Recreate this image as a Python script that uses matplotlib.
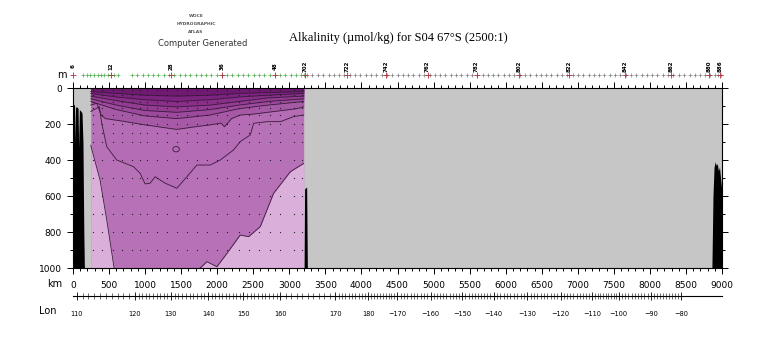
import numpy as np
import matplotlib.pyplot as plt
from matplotlib.patches import Ellipse

# --- isolines of alkalinity read from the section (distance km, depth m) ---
# shallow band lines, share one x list
band_km = [246, 600, 1000, 1440, 1900, 2300, 2700, 3199]
band_a = [20, 30, 40, 45, 40, 30, 25, 20]
band_b = [30, 50, 65, 75, 65, 50, 40, 30]
band_c = [45, 70, 95, 105, 95, 75, 55, 45]
band_d = [60, 95, 125, 135, 120, 95, 75, 60]
band_e = [75, 120, 155, 170, 150, 115, 95, 75]

c200_km = [246, 330, 390, 450, 700, 1000, 1440, 1700, 1900, 2050, 2100, 2200, 2319, 2500, 2700, 2900, 3100, 3199]
c200_dep = [95, 85, 150, 170, 185, 205, 230, 215, 205, 195, 215, 170, 150, 145, 135, 125, 115, 105]

cmid_km = [246, 366, 398, 468, 606, 838, 931, 1000, 1069, 1139, 1278, 1440, 1579, 1718, 1903, 2042,
           2227, 2319, 2458, 2505, 2690, 2875, 3060, 3199]
cmid_dep = [131, 104, 196, 326, 400, 437, 474, 533, 529, 493, 529, 557, 493, 428, 428, 400,
            344, 298, 261, 196, 187, 187, 159, 150]

light_l_km = [246, 300, 375, 468, 570]
light_l_dep = [318, 400, 511, 733, 1000]
light_r_km = [1764, 1857, 1995, 2134, 2319, 2435, 2597, 2782, 3014, 3199]
light_r_dep = [1000, 965, 993, 919, 817, 826, 770, 585, 465, 419]

eddy = (1430, 340)  # small closed contour

# sample positions
bottle_km = [282, 398, 560, 676, 815, 931, 1023, 1162, 1301, 1440, 1579, 1718, 1856, 1995,
             2134, 2296, 2435, 2574, 2736, 2875, 3060, 3180]
bottle_dep = [10, 40, 75, 110, 150, 200, 250, 300, 400, 500, 600, 700, 800, 900]

# bathymetry
bath_l_km = [-5, 0, 10, 20, 28, 34, 45, 58, 70, 78, 88, 100, 112, 125, 138, 150, 158]
bath_l_dep = [1000, 80, 95, 90, 300, 100, 110, 105, 115, 330, 120, 125, 130, 140, 300, 800, 1000]
bath_m_km = [3205, 3212, 3240, 3250]
bath_m_dep = [1000, 560, 550, 1000]
bath_r_km = [8860, 8875, 8890, 8905, 8920, 8935, 8950, 8965, 8980, 8995, 9010]
bath_r_dep = [1000, 600, 440, 410, 430, 420, 460, 440, 500, 560, 600]

# stations along the top
sta_data_km = [140, 190, 240, 290, 340, 385, 430, 480, 525, 570, 620,
               820, 890, 965, 1040, 1110, 1185, 1260, 1330, 1405, 1480, 1550, 1625, 1700, 1770,
               1845, 1920, 1990, 2065, 2140, 2210, 2285, 2360, 2430, 2505, 2580, 2650, 2725,
               2800, 2870, 2945, 3020, 3090, 3165, 3210]
sta_other_km = [3250, 3320, 3395, 3470, 3545, 3620, 3690, 3765, 3840, 3910, 3985, 4060, 4135,
                4205, 4280, 4355, 4430, 4500, 4575, 4650, 4720, 4795, 4870, 4945, 5015, 5090,
                5165, 5235, 5310, 5385, 5460, 5530, 5605, 5680, 5750, 5825, 5900, 5975, 6045,
                6120, 6195, 6265, 6340, 6415, 6490, 6560, 6635, 6710, 6780, 6855, 6930, 7005,
                7075, 7150, 7225, 7295, 7370, 7445, 7520, 7590, 7665, 7740, 7810, 7885, 7960,
                8035, 8105, 8180, 8255, 8325, 8400, 8475, 8550, 8620, 8695, 8770, 8840, 8900,
                8945, 8985]
sta_lab_km = [0, 528, 1361, 2069, 2806, 3222, 3806, 4347, 4917, 5597, 6181, 6875, 7653, 8292, 8819, 8972]
sta_lab = ['6', '12', '28', '36', '48', '702', '722', '742', '762', '782', '802', '822', '842',
           '862', '880', '886']

# longitude along track
lon_lab = ['110', '120', '130', '140', '150', '160', '170', '180', '\u2212170', '\u2212160',
           '\u2212150', '\u2212140', '\u2212130', '\u2212120', '\u2212110', '\u2212100', '\u221290', '\u221280']
lon_val = [110, 120, 130, 140, 150, 160, 170, 180, 190, 200, 210, 220, 230, 240, 250, 260, 270, 280]
lon_km = [51, 861, 1357, 1875, 2361, 2875, 3639, 4097, 4496, 4958, 5399, 5833, 6301, 6764,
          7204, 7569, 8014, 8431]

W, H = 780, 350
fig = plt.figure(figsize=(W / 100, H / 100), dpi=100)
L, R, T, B = 73, 722, 88, 268
ax = fig.add_axes([L / W, 1 - B / H, (R - L) / W, (B - T) / H])
ax.set_xlim(0, 9000)
ax.set_ylim(1000, 0)
ax.set_facecolor('#c6c6c6')

xg = np.linspace(246, 3199, 800)
cols = ['#6e1a70', '#7c2480', '#883088', '#923c92', '#9c4a9c', '#a65aa6', '#b46cb4', '#b771b7']
lines = [band_a, band_b, band_c, band_d, band_e]
deep = [np.interp(xg, band_km, d) for d in lines]
deep.append(np.interp(xg, c200_km, c200_dep))
deep.append(np.interp(xg, cmid_km, cmid_dep))

ax.fill_between(xg, 0, 1000, color=cols[-1], lw=0)
for d, c in zip(deep[::-1], cols[-2::-1]):
    ax.fill_between(xg, 0, d, color=c, lw=0)

light = np.minimum(np.interp(xg, light_l_km, light_l_dep, right=1000),
                   np.interp(xg, light_r_km, light_r_dep, left=1000))
ax.fill_between(xg, light, 1000, color='#dab0da', lw=0)

lc = '#3c1a3c'
for d in lines:
    ax.plot(band_km, d, color=lc, lw=0.6)
ax.plot(c200_km, c200_dep, color=lc, lw=0.6)
ax.plot(cmid_km, cmid_dep, color=lc, lw=0.6)
ax.plot(light_l_km, light_l_dep, color=lc, lw=0.6)
ax.plot(light_r_km, light_r_dep, color=lc, lw=0.6)
ax.add_patch(Ellipse(eddy, 90, 30, fill=False, ec=lc, lw=0.6))

bk, bd = np.meshgrid(bottle_km, bottle_dep)
ax.plot(bk.ravel(), bd.ravel(), 'o', ms=0.9, color='#202020', mew=0)

ax.fill_between(bath_l_km, bath_l_dep, 1000, color='black', lw=0)
ax.fill_between(bath_m_km, bath_m_dep, 1000, color='black', lw=0)
ax.fill_between(bath_r_km, bath_r_dep, 1000, color='black', lw=0)

ax.set_xticks(range(0, 9001, 500))
ax.set_xticks(range(0, 9001, 100), minor=True)
ax.set_yticks(range(0, 1001, 200))
ax.set_yticks(range(0, 1001, 100), minor=True)
ax.tick_params(which='both', direction='out', top=True, right=True, width=0.7,
               labelsize=6.5, pad=4)
ax.tick_params(which='major', length=4)
ax.tick_params(which='minor', length=2)
ax.tick_params(axis='x', pad=5)
for s in ax.spines.values():
    s.set_linewidth(0.8)

# station marks above the section
ytop = 1 + 13 / 180
tr = ax.get_xaxis_transform()
ax.plot(sta_data_km, [ytop] * len(sta_data_km), '+', ms=3, mew=0.5, color='#4caf4c',
        transform=tr, clip_on=False)
ax.plot(sta_other_km, [ytop] * len(sta_other_km), '+', ms=3, mew=0.5, color='#808080',
        transform=tr, clip_on=False)
ax.plot(sta_lab_km, [ytop] * len(sta_lab_km), '+', ms=4, mew=0.6, color='#b03040',
        transform=tr, clip_on=False)
for k, s in zip(sta_lab_km, sta_lab):
    ax.text(k, 1 + 22 / 180, s, transform=tr, rotation=90, ha='center', va='center',
            fontsize=4, fontweight='bold')

# longitude scale
axl = fig.add_axes([L / W, 1 - 296 / H, (R - L) / W, 1e-4])
axl.set_xlim(0, 9000)
axl.set_yticks([])
for s in ['left', 'right', 'top']:
    axl.spines[s].set_visible(False)
axl.spines['bottom'].set_linewidth(0.8)
deg = np.arange(110, 281)
axl.set_xticks(lon_km)
axl.set_xticklabels(lon_lab)
axl.set_xticks(np.interp(deg, lon_val, lon_km), minor=True)
axl.tick_params(which='major', direction='inout', length=6, width=0.6, labelsize=4.8, pad=8)
axl.tick_params(which='minor', direction='inout', length=4, width=0.4)

fig.text(55 / W, 1 - 284 / H, 'km', fontsize=7, ha='center', va='center')
fig.text(62 / W, 1 - 75 / H, 'm', fontsize=7, ha='center', va='center')
fig.text(48 / W, 1 - 311 / H, 'Lon', fontsize=7, ha='center', va='center')

fig.text(398 / W, 1 - 38 / H, 'Alkalinity (\u00b5mol/kg) for S04 67\u00b0S (2500:1)',
         fontsize=9, ha='center', va='center', family='Liberation Serif')
for y, s in [(16, 'WOCE'), (24, 'HYDROGRAPHIC'), (32, 'ATLAS')]:
    fig.text(196 / W, 1 - y / H, s, fontsize=3.2, ha='center', va='center',
             fontweight='bold', color='#555555')
fig.text(203 / W, 1 - 43 / H, 'Computer Generated', fontsize=6, ha='center', va='center',
         color='#333333')

fig.savefig('out.png', dpi=100)
